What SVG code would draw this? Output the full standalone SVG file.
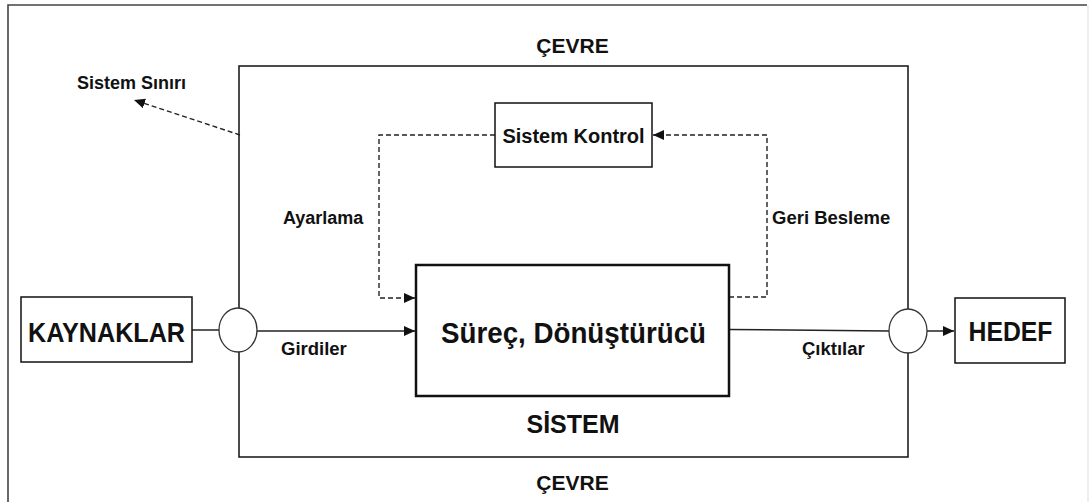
<svg xmlns="http://www.w3.org/2000/svg" width="1092" height="502" viewBox="0 0 1092 502">
  <style>
    .lbl { font-family: "Liberation Sans", Arial, sans-serif; font-weight: bold; fill: #111; }
    .box { fill: #fff; stroke: #111; stroke-width: 1.5; }
    .solid { fill: none; stroke: #222; stroke-width: 1.5; }
    .dash { fill: none; stroke: #222; stroke-width: 1.4; stroke-dasharray: 5 3; }
    .port { fill: #fff; stroke: #333; stroke-width: 1.3; }
  </style>
  <defs>
    <marker id="arrow" markerUnits="userSpaceOnUse" markerWidth="12" markerHeight="11" refX="11" refY="5" orient="auto">
      <path d="M0,0 L11,5 L0,10 z" fill="#111"/>
    </marker>
  </defs>

  <rect width="1092" height="502" fill="#fff"/>

  <!-- environment frame -->
  <g id="environment">
    <path d="M8,520 L8,5 L1087,5" fill="none" stroke="#444" stroke-width="1.6"/>
    <line x1="1088" y1="5" x2="1088" y2="520" stroke="#ddd" stroke-width="1"/>
    <text class="lbl" x="572.5" y="53" font-size="21" text-anchor="middle">ÇEVRE</text>
    <text class="lbl" x="572.5" y="490" font-size="21" text-anchor="middle">ÇEVRE</text>
  </g>

  <!-- system boundary -->
  <g id="system">
    <rect x="239" y="66" width="669" height="391" fill="none" stroke="#111" stroke-width="1.5"/>
    <text class="lbl" x="573" y="433" font-size="25" text-anchor="middle">SİSTEM</text>
  </g>

  <g id="boundary-label">
    <text class="lbl" x="77" y="89" font-size="18">Sistem Sınırı</text>
  </g>

  <!-- connectors -->
  <g id="connectors">
    <line class="dash" x1="240" y1="135" x2="134" y2="100" marker-end="url(#arrow)"/>
    <polyline class="dash" points="729,297 767,297 767,135 653,135" marker-end="url(#arrow)"/>
    <polyline class="dash" points="495,135 379,135 379,298 415,298" marker-end="url(#arrow)"/>
    <line class="solid" x1="192" y1="330" x2="219" y2="330"/>
    <line class="solid" x1="257" y1="331" x2="415" y2="331" marker-end="url(#arrow)"/>
    <line class="solid" x1="729" y1="329.5" x2="889" y2="331"/>
    <line class="solid" x1="927" y1="331" x2="954" y2="331" marker-end="url(#arrow)"/>
  </g>

  <g id="input-port">
    <ellipse class="port" cx="238" cy="330" rx="19" ry="22"/>
  </g>
  <g id="output-port">
    <ellipse class="port" cx="908" cy="331" rx="19" ry="22"/>
  </g>

  <g id="kaynaklar">
    <rect class="box" x="21" y="297" width="171" height="65"/>
    <text class="lbl" x="106.5" y="342" font-size="28" text-anchor="middle" textLength="157" lengthAdjust="spacingAndGlyphs">KAYNAKLAR</text>
  </g>

  <g id="hedef">
    <rect class="box" x="955" y="298" width="110" height="65"/>
    <text class="lbl" x="1010.5" y="341" font-size="28" text-anchor="middle" textLength="84" lengthAdjust="spacingAndGlyphs">HEDEF</text>
  </g>

  <g id="sistem-kontrol">
    <rect class="box" x="495" y="103" width="157" height="64"/>
    <text class="lbl" x="573.5" y="143" font-size="20" text-anchor="middle">Sistem Kontrol</text>
  </g>

  <g id="surec">
    <rect x="416" y="265" width="313" height="131" fill="#fff" stroke="#111" stroke-width="2.5"/>
    <text class="lbl" x="573.5" y="343" font-size="29" text-anchor="middle" textLength="265" lengthAdjust="spacingAndGlyphs">Süreç, Dönüştürücü</text>
  </g>

  <!-- flow labels -->
  <g id="flow-labels">
    <text class="lbl" x="283" y="224" font-size="18">Ayarlama</text>
    <text class="lbl" x="772" y="224" font-size="18.5">Geri Besleme</text>
    <text class="lbl" x="281" y="355" font-size="18.5">Girdiler</text>
    <text class="lbl" x="802" y="355" font-size="18.5">Çıktılar</text>
  </g>
</svg>
